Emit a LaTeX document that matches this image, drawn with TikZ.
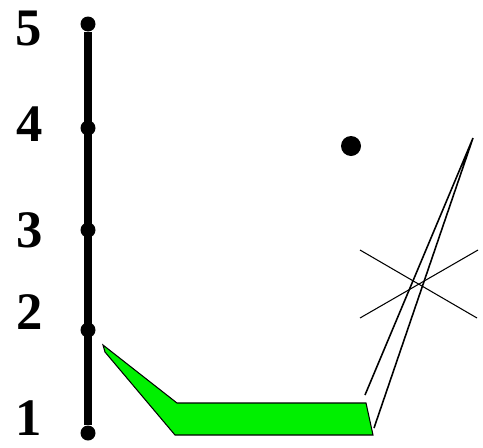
\documentclass[tikz,border=0pt]{standalone}
\usepackage{fontspec}
\setmainfont{Liberation Serif}
\usepackage{tikz}
\usetikzlibrary{positioning}
\definecolor{padgreen}{HTML}{00F000}

\begin{document}
\begin{tikzpicture}[
  x=0.02cm, y=-0.02cm,
  dot/.style={circle, fill=black, inner sep=0pt, minimum size=0.3cm},
  lbl/.style={font=\fontsize{30}{32}\selectfont\bfseries, inner sep=0pt},
  bar/.style={line width=0.17cm, color=black},
  thin/.style={line width=0.6pt, color=black}
]
\useasboundingbox (0,0) rectangle (483,447);

\node[dot] (p5) at (88,24) {};
\node[dot] (p4) at (88,128) {};
\node[dot] (p3) at (88,230) {};
\node[dot] (p2) at (88,330) {};
\node[dot] (p1) at (88,433) {};

\node[lbl] (l5) at (29,28) {5};
\node[lbl] (l4) at (30,124) {4};
\node[lbl] (l3) at (30,230) {3};
\node[lbl] (l2) at (30,312) {2};
\node[lbl] (l1) at (29,418) {1};

\draw[bar] (p1) -- (p5);

% green tray
\draw[thin, fill=padgreen] (103,345) -- (177,403) -- (366,403) -- (373,435)
  -- (175,435) -- (105,352) -- cycle;

% rod
\coordinate (tip) at (473,138);
\coordinate (rodl) at (365,395);
\coordinate (rodr) at (374,428);
\draw[thin, line width=0.9pt] (rodl) -- (tip) -- (rodr);

% cross
\coordinate (xa) at (360,250);
\coordinate (xb) at (477,318);
\coordinate (xc) at (360,318);
\coordinate (xd) at (478,250);
\draw[thin] (xa) -- (xb);
\draw[thin] (xc) -- (xd);

\node[dot, minimum size=0.4cm] (ball) at (351,146) {};
\end{tikzpicture}
\end{document}
